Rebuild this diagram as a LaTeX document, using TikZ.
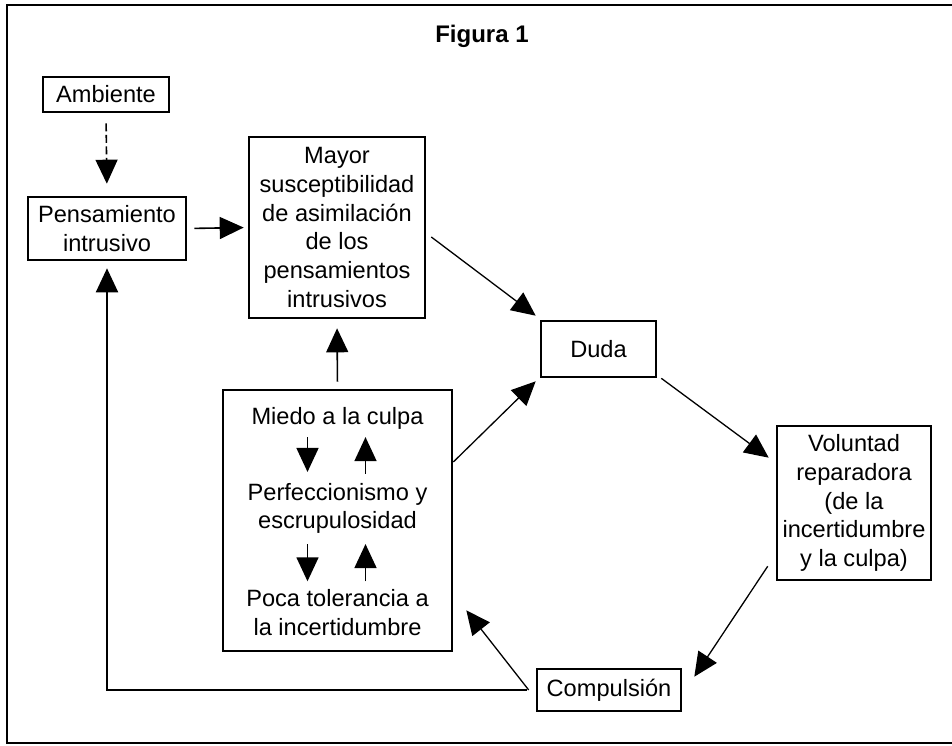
\documentclass[tikz,border=0pt]{standalone}
\usepackage{fontspec}
\setmainfont{Liberation Sans}
\usetikzlibrary{arrows.meta}
\tikzset{
  every node/.style={font=\fontsize{23.6}{28.7}\selectfont, inner sep=0pt},
  boxnode/.style={draw, line width=2.6pt, align=center},
  txt/.style={align=center},
  arr/.style={line width=1.6pt, -{Triangle[length=24pt,width=22pt]}},
  dasharr/.style={arr, dash pattern=on 8pt off 3.5pt},
  frame/.style={line width=2.6pt}
}
\begin{document}
\begin{tikzpicture}[x=1pt,y=-1pt]
\useasboundingbox (0,0) rectangle (952,746);
\draw[frame] (952,5) -- (7,5) -- (7,743) -- (952,743);
\node[anchor=base, font=\fontsize{24}{28}\selectfont\bfseries] (title) at (482,43) {Figura 1};

\node[boxnode, minimum width=126pt, minimum height=35pt] (amb) at (106,94.5) {Ambiente};
\node[boxnode, minimum width=158pt, minimum height=63pt] (pens) at (107,228.5) {Pensamiento\\intrusivo};
\node[boxnode, minimum width=176pt, minimum height=181pt] (mayor) at (337,227.5) {Mayor\\susceptibilidad\\de asimilación\\de los\\pensamientos\\intrusivos};
\node[boxnode, minimum width=115pt, minimum height=56pt] (duda) at (598.5,349) {Duda};
\node[boxnode, minimum width=154pt, minimum height=154pt] (vol) at (854,503) {Voluntad\\reparadora\\(de la\\incertidumbre\\y la culpa)};
\node[boxnode, minimum width=144pt, minimum height=42pt] (comp) at (609,690) {Compulsión};
\node[boxnode, minimum width=229pt, minimum height=261pt] (inner) at (337.5,520.5) {};

\node[txt, anchor=base] (miedo) at (337.5,424) {Miedo a la culpa};
\node[txt] (perf) at (337.5,508.5) {Perfeccionismo y\\escrupulosidad};
\node[txt] (poca) at (337.5,612.5) {Poca tolerancia a\\la incertidumbre};

% inner arrows
\draw[arr, shorten <=8pt, shorten >=11pt] ([xshift=-30pt]miedo.south) -- ([xshift=-30pt]perf.north);
\draw[arr, shorten <=9pt, shorten >=8pt] ([xshift=28pt]perf.north) -- ([xshift=28pt]miedo.south);
\draw[arr, shorten <=10pt, shorten >=8pt] ([xshift=-30pt]perf.south) -- ([xshift=-30pt]poca.north);
\draw[arr, shorten <=8pt, shorten >=10pt] ([xshift=28pt]poca.north) -- ([xshift=28pt]perf.south);

% main connectors
\draw[dasharr, shorten <=10pt, shorten >=12pt] (amb.south) -- (pens.north);
\draw[arr, shorten <=7pt, shorten >=4pt] (pens.east) -- (mayor.west);
\draw[arr, shorten <=7pt, shorten >=9pt] (inner.north) -- (mayor.south);
\draw[arr, line width=1.3pt] ([xshift=5pt,yshift=-9.5pt]mayor.east) -- ([xshift=-4pt,yshift=4pt]duda.north west);
\draw[arr, line width=1.3pt] ([yshift=58.5pt]inner.east) -- ([xshift=-4pt,yshift=-3pt]duda.south west);
\draw[arr, line width=1.3pt] ([xshift=4pt]duda.south east) -- ([xshift=-7pt,yshift=-33pt]vol.north west);
\draw[arr, line width=1.3pt] ([xshift=-8pt,yshift=15pt]vol.south west) -- ([xshift=12pt,yshift=-9pt]comp.north east);
\draw[arr, line width=1.3pt] ([xshift=-7pt]comp.west) -- ([xshift=13pt,yshift=42pt]inner.south east);
\draw[arr, line width=2pt, shorten >=7pt] ([xshift=-9pt]comp.west) -| (pens.south);
\end{tikzpicture}
\end{document}
